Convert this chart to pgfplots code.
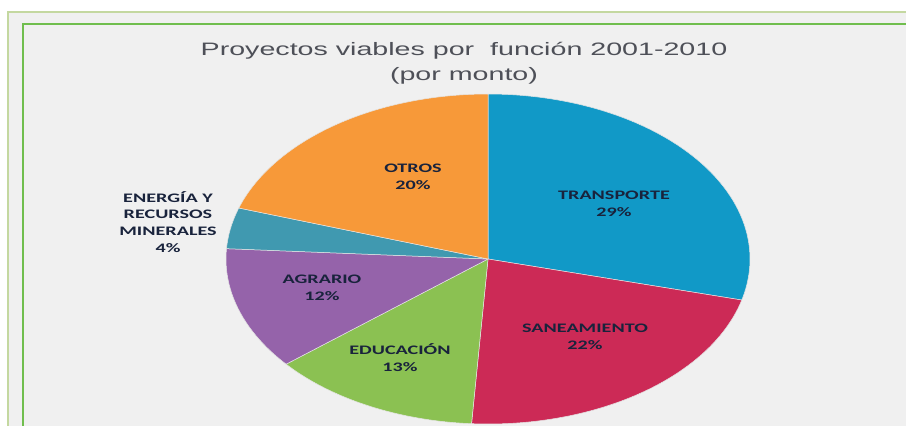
\documentclass[border=0pt]{standalone}
\usepackage{pgfplots}
\pgfplotsset{compat=1.18}
\usepackage{graphicx}
\usepackage{fontspec}
\setmainfont{Carlito}
\newfontfamily\titlefont{Liberation Sans}
\definecolor{bgc}{RGB}{240,240,240}
\definecolor{outerg}{RGB}{196,216,160}
\definecolor{innerg}{RGB}{112,190,78}
\definecolor{ctrans}{RGB}{17,153,199}
\definecolor{csane}{RGB}{204,42,86}
\definecolor{cedu}{RGB}{139,193,82}
\definecolor{cagr}{RGB}{149,99,170}
\definecolor{cener}{RGB}{64,153,176}
\definecolor{cotros}{RGB}{247,153,57}
\definecolor{ctitle}{RGB}{78,80,88}
\definecolor{clbl}{RGB}{25,35,60}
\newcommand\lbl[1]{\scalebox{1.55}[1]{\fontsize{13}{16.8}\selectfont\bfseries\begin{tabular}{@{}c@{}}#1\end{tabular}}}
% percentages: TRANSPORTE 29, SANEAMIENTO 22, EDUCACION 13, AGRARIO 12, ENERGIA 4, OTROS 20
\begin{document}
\begin{tikzpicture}
\begin{axis}[
  width=906pt, height=426pt, scale only axis,
  xmin=0, xmax=906, ymin=0, ymax=426, y dir=reverse,
  hide axis, clip=true,
]
% background
\fill[white] (axis cs:0,0) rectangle (axis cs:906,426);
\fill[bgc] (axis cs:8,12) rectangle (axis cs:906,426);
\draw[outerg, line width=2pt] (axis cs:8,430) -- (axis cs:8,12) -- (axis cs:910,12);
\draw[innerg, line width=1.3pt] (axis cs:23,430) -- (axis cs:23,24) -- (axis cs:910,24);
% pie (center 488,259; rx 262, ry 165), clockwise from 12 o'clock
\addplot[fill=ctrans, draw=white!80!gray, line width=0.5pt, domain={90-29*3.6}:90, samples=80, variable=\t]
  ({488+262*cos(\t)}, {259-165*sin(\t)}) -- (axis cs:488,259) -- cycle;
\addplot[fill=csane, draw=white!80!gray, line width=0.5pt, domain={90-51*3.6}:{90-29*3.6}, samples=60, variable=\t]
  ({488+262*cos(\t)}, {259-165*sin(\t)}) -- (axis cs:488,259) -- cycle;
\addplot[fill=cedu, draw=white!80!gray, line width=0.5pt, domain={90-64*3.6}:{90-51*3.6}, samples=40, variable=\t]
  ({488+262*cos(\t)}, {259-165*sin(\t)}) -- (axis cs:488,259) -- cycle;
\addplot[fill=cagr, draw=white!80!gray, line width=0.5pt, domain={90-76*3.6}:{90-64*3.6}, samples=40, variable=\t]
  ({488+262*cos(\t)}, {259-165*sin(\t)}) -- (axis cs:488,259) -- cycle;
\addplot[fill=cener, draw=white!80!gray, line width=0.5pt, domain={90-80*3.6}:{90-76*3.6}, samples=20, variable=\t]
  ({488+262*cos(\t)}, {259-165*sin(\t)}) -- (axis cs:488,259) -- cycle;
\addplot[fill=cotros, draw=white!80!gray, line width=0.5pt, domain={90-100*3.6}:{90-80*3.6}, samples=60, variable=\t]
  ({488+262*cos(\t)}, {259-165*sin(\t)}) -- (axis cs:488,259) -- cycle;
% title
\node[text=ctitle, inner sep=0] at (axis cs:464,51) {\scalebox{1.59}[1]{\titlefont\fontsize{18}{20}\selectfont Proyectos viables por\ \ función 2001-2010}};
\node[text=ctitle, inner sep=0] at (axis cs:464,76) {\scalebox{1.59}[1]{\titlefont\fontsize{18}{20}\selectfont (por monto)}};
% labels
\node[text=clbl, inner sep=0] at (axis cs:614,205) {\lbl{TRANSPORTE\\29\%}};
\node[text=clbl, inner sep=0] at (axis cs:585,338) {\lbl{SANEAMIENTO\\22\%}};
\node[text=clbl, inner sep=0] at (axis cs:400,360) {\lbl{EDUCACIÓN\\13\%}};
\node[text=clbl, inner sep=0] at (axis cs:322,289) {\lbl{AGRARIO\\12\%}};
\node[text=clbl, inner sep=0] at (axis cs:413,178) {\lbl{OTROS\\20\%}};
\node[text=clbl, inner sep=0] at (axis cs:168,224) {\lbl{ENERGÍA Y\\RECURSOS\\MINERALES\\4\%}};
\end{axis}
\end{tikzpicture}
\end{document}
